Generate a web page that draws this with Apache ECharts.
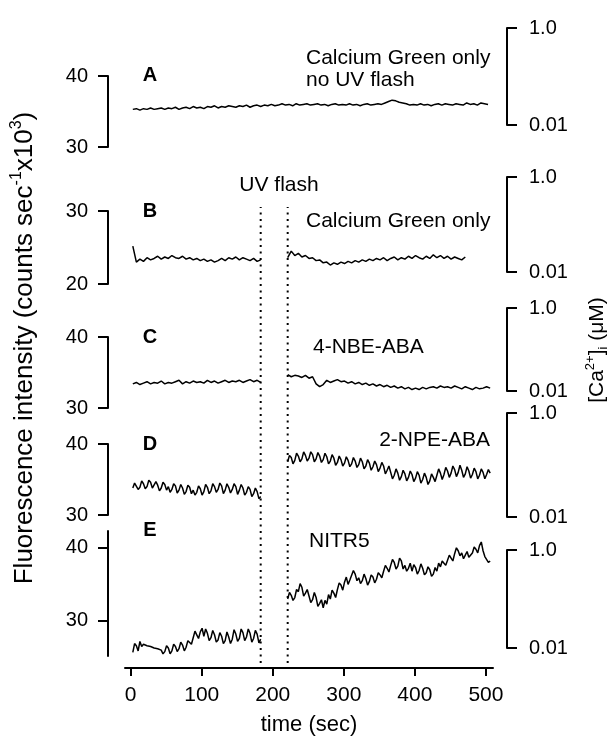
<!DOCTYPE html>
<html>
<head>
<meta charset="utf-8">
<script src="https://cdn.jsdelivr.net/npm/echarts@6/dist/echarts.min.js"></script>
<style>html,body{margin:0;padding:0;background:#fff;}#c{width:611px;height:738px;}</style>
</head>
<body>
<div id="c"></div>
<script>
// ---------- data ----------
const xTicks = [0, 100, 200, 300, 400, 500];
const flashTimes = [183, 221];
const caTicks = [0.01, 1];

const tA = [3,8,13,18,23,28,33,38,43,48,53,58,63,68,73,78,83,88,93,98,103,108,113,118,123,128,133,138,143,148,153,158,163,168,173,178,183,188,193,198,203,208,213,218,223,228,233,238,243,248,253,258,263,268,273,278,283,288,293,298,303,308,313,318,323,328,333,338,343,348,353,358,363,368,373,378,383,388,393,398,403,408,413,418,423,428,433,438,443,448,453,458,463,468,473,478,483,488,493,498,503];
const tPre = [3,8,13,18,23,28,33,38,43,48,53,58,63,68,73,78,83,88,93,98,103,108,113,118,123,128,133,138,143,148,153,158,163,168,173,178,183];
const tPostB = [221,226,231,236,241,246,251,256,261,266,271,276,281,286,291,296,301,306,311,316,321,326,331,336,341,346,351,356,361,366,371,376,381,386,391,396,401,406,411,416,421,426,431,436,441,446,451,456,461,466,471];
const tPost = [221,226,231,236,241,246,251,256,261,266,271,276,281,286,291,296,301,306,311,316,321,326,331,336,341,346,351,356,361,366,371,376,381,386,391,396,401,406,411,416,421,426,431,436,441,446,451,456,461,466,471,476,481,486,491,496,501,506];
const tPre2 = [3,5.5,8,10.5,13,15.5,18,20.5,23,25.5,28,30.5,33,35.5,38,40.5,43,45.5,48,50.5,53,55.5,58,60.5,63,65.5,68,70.5,73,75.5,78,80.5,83,85.5,88,90.5,93,95.5,98,100.5,103,105.5,108,110.5,113,115.5,118,120.5,123,125.5,128,130.5,133,135.5,138,140.5,143,145.5,148,150.5,153,155.5,158,160.5,163,165.5,168,170.5,173,175.5,178,180.5,183];
const tPost2 = [221,223.5,226,228.5,231,233.5,236,238.5,241,243.5,246,248.5,251,253.5,256,258.5,261,263.5,266,268.5,271,273.5,276,278.5,281,283.5,286,288.5,291,293.5,296,298.5,301,303.5,306,308.5,311,313.5,316,318.5,321,323.5,326,328.5,331,333.5,336,338.5,341,343.5,346,348.5,351,353.5,356,358.5,361,363.5,366,368.5,371,373.5,376,378.5,381,383.5,386,388.5,391,393.5,396,398.5,401,403.5,406,408.5,411,413.5,416,418.5,421,423.5,426,428.5,431,433.5,436,438.5,441,443.5,446,448.5,451,453.5,456,458.5,461,463.5,466,468.5,471,473.5,476,478.5,481,483.5,486,488.5,491,493.5,496,498.5,501,503.5,506];

const vA = [35.3,35.4,35.2,35.4,35.3,35.5,35.3,35.4,35.5,35.3,
  35.5,35.4,35.6,35.3,35.5,35.6,35.4,35.7,35.5,35.6,
  35.4,35.7,35.6,35.8,35.5,35.7,35.6,35.8,35.7,35.6,
  35.8,35.7,35.9,35.6,35.8,35.9,35.7,35.9,35.8,36.0,
  35.8,35.9,36.1,35.9,36.0,35.8,36.1,35.9,36.0,36.1,
  35.9,36.0,36.1,35.9,36.0,35.8,36.0,36.1,35.9,36.0,
  35.9,36.1,35.9,36.0,35.8,36.0,36.1,35.9,36.0,36.1,
  36.0,36.2,36.4,36.6,36.5,36.3,36.2,36.1,35.9,36.0,
  35.9,36.1,35.9,36.0,35.8,36.0,36.1,35.9,36.1,36.0,
  35.9,36.1,36.0,35.9,36.2,36.0,36.1,35.9,36.2,36.1,
  36.0];

const vBpre = [25.2,23.0,23.4,23.1,23.6,23.3,23.5,23.8,23.4,23.7,
  23.5,23.9,23.6,23.5,23.8,23.4,23.6,23.3,23.5,23.2,
  23.4,23.1,23.3,23.0,23.2,23.5,23.2,23.6,23.4,23.7,
  23.3,23.6,23.4,23.2,23.5,23.1,23.3];
const vBpost = [23.6,24.5,23.9,24.2,23.7,23.9,23.5,23.6,23.2,23.3,
  22.9,23.0,22.6,22.9,22.7,23.0,22.8,23.1,22.9,23.2,
  23.0,23.3,23.1,23.4,23.2,23.5,23.3,23.6,23.2,23.5,
  23.7,23.3,23.6,23.4,23.8,23.5,23.9,23.6,23.4,23.8,
  23.5,24.0,23.6,23.9,23.5,23.8,23.4,23.7,23.5,23.3,
  23.7];

const vCpre = [33.4,33.6,33.3,33.5,33.7,33.4,33.6,33.5,33.8,33.4,
  33.6,33.5,33.7,33.9,33.4,33.7,33.5,33.8,33.6,33.7,
  33.5,33.9,33.6,33.8,33.5,33.7,33.9,33.6,33.8,33.7,
  33.9,33.6,33.8,34.0,33.7,33.9,33.6];
const vCpost = [34.7,34.4,34.6,34.5,34.3,34.6,34.2,34.4,33.4,33.0,
  33.3,33.9,33.6,33.8,34.0,33.7,33.8,33.5,33.7,33.4,
  33.6,33.3,33.5,33.2,33.4,33.1,33.3,33.0,33.2,32.9,
  33.1,32.8,33.0,32.7,32.9,32.6,32.8,32.6,32.9,32.7,
  32.9,33.0,32.8,33.1,32.9,33.0,32.8,33.1,32.9,32.7,
  33.0,32.8,32.6,32.9,32.7,32.8,33.0,32.8];

const vDpre = [33.8,34.5,34.3,33.6,33.9,34.8,34.4,33.7,34.0,34.9,
  34.6,33.8,33.9,34.7,34.2,33.4,33.8,34.6,34.3,33.5,
  34.0,33.2,33.6,34.4,34.1,33.1,33.5,34.3,33.8,32.9,
  33.3,34.2,33.9,33.0,33.5,32.8,33.2,34.1,33.7,32.8,
  33.3,34.3,33.9,33.0,33.4,34.4,34.0,33.2,33.6,34.5,
  34.1,33.0,33.5,34.4,33.9,33.1,33.6,34.4,34.0,32.9,
  33.5,34.3,33.8,32.8,33.2,34.0,33.6,32.6,33.0,33.8,
  33.3,32.3,32.6];
const vDpost = [37.5,38.4,38.1,37.2,37.7,38.7,38.3,37.5,37.9,38.9,
  38.4,37.6,38.0,38.9,38.5,37.5,37.9,38.8,38.3,37.4,
  37.8,38.7,38.2,37.2,37.6,38.5,38.0,37.0,37.4,38.3,
  37.8,36.9,37.3,38.2,37.7,36.8,37.2,38.1,37.6,36.7,
  37.1,38.0,37.5,36.5,36.9,37.8,37.3,36.3,36.8,37.6,
  37.1,36.1,36.6,37.4,36.9,35.8,36.3,36.9,36.0,35.1,
  35.6,36.5,35.9,34.9,35.4,36.3,35.8,34.8,35.3,36.2,
  35.7,34.7,35.2,36.1,35.6,34.5,35.0,35.9,35.3,34.3,
  34.8,35.8,35.3,34.7,35.6,36.5,35.9,35.0,35.7,36.7,
  36.2,35.3,35.9,36.9,36.4,35.4,36.0,37.0,36.3,35.3,
  35.8,36.8,36.2,35.2,35.7,36.6,36.1,35.1,35.6,36.5,
  36.0,35.1,35.7,36.4,35.9];

const vEpre = [25.7,26.9,26.6,25.9,27.2,26.5,26.8,26.7,26.6,26.55,
  26.5,26.4,26.3,26.25,26.2,26.1,26.0,25.5,25.8,26.6,
  26.3,25.5,25.9,26.8,26.5,25.8,26.2,27.1,26.7,25.9,
  26.4,27.3,27.2,26.8,27.7,28.6,28.1,27.6,28.5,29.0,
  27.9,28.9,28.3,27.3,27.7,28.7,28.1,27.1,27.4,28.4,
  27.9,26.9,27.3,28.5,27.8,26.9,27.5,28.8,28.2,27.2,
  27.6,28.9,28.4,27.3,27.8,28.9,28.3,27.1,27.6,28.7,
  28.2,27.0,27.5];
const vEpost = [33.0,33.9,33.5,32.8,33.2,34.3,34.0,35.1,34.6,33.4,
  33.8,34.3,33.4,32.5,32.9,33.9,33.2,32.0,32.4,32.9,
  31.8,32.8,32.3,33.6,33.0,34.2,33.8,33.2,34.3,35.2,
  34.9,34.2,35.3,36.0,35.0,35.6,35.8,36.9,36.4,35.5,
  35.9,35.1,35.5,36.4,35.8,34.9,35.4,36.3,36.0,35.2,
  35.7,36.6,36.3,35.9,36.8,37.6,37.2,36.7,37.6,38.4,
  38.0,37.1,37.5,38.6,38.2,37.1,37.6,36.8,37.2,37.9,
  36.8,37.7,37.3,36.4,36.9,37.8,37.2,36.3,36.6,37.4,
  37.0,36.1,36.4,37.3,36.8,37.9,37.4,38.2,37.9,37.6,
  38.3,39.0,38.6,38.2,39.2,40.0,39.6,38.9,39.3,38.5,
  39.0,39.5,38.7,38.5,39.3,40.1,39.8,39.3,40.3,40.8,
  39.6,38.8,38.9,38.0,38.2];

// ---------- layout ----------
const FONT = 'Liberation Sans';
const X_MIN = -8, X_MAX = 510;
const GL = 125, GW = 368;
const panels = [
  {top: 76,  h: 71,  min: 30,   max: 40,   ticks: [30, 40]},
  {top: 211, h: 73,  min: 20,   max: 30,   ticks: [20, 30]},
  {top: 337, h: 71,  min: 30,   max: 40,   ticks: [30, 40]},
  {top: 444, h: 71,  min: 30,   max: 40,   ticks: [30, 40]},
  {top: 531, h: 125, min: 25.2, max: 42.3, ticks: [30, 40]}
];
const rightAxes = [
  {top: 28,  h: 97},
  {top: 177, h: 95},
  {top: 308, h: 83},
  {top: 413, h: 104},
  {top: 550, h: 98}
];
const traces = [
  [[tA, vA]],
  [[tPre, vBpre], [tPostB, vBpost]],
  [[tPre, vCpre], [tPost, vCpost]],
  [[tPre2, vDpre], [tPost2, vDpost]],
  [[tPre2, vEpre], [tPost2, vEpost]]
];

function pairs(t, v) { return t.map((x, i) => [x, v[i]]); }

const grid = [], xAxis = [], yAxis = [], series = [];
const axLine = {show: true, onZero: false, lineStyle: {color: '#000', width: 2}};
const tickSt = {color: '#000', width: 2};

panels.forEach((p, i) => {
  grid.push({left: GL, width: GW, top: p.top, height: p.h});
  const last = i === panels.length - 1;
  xAxis.push({
    gridIndex: i, type: 'value', min: X_MIN, max: X_MAX,
    show: last, position: 'bottom', offset: 12,
    axisLine: axLine, splitLine: {show: false},
    axisTick: {show: true, length: 8, lineStyle: tickSt, customValues: xTicks},
    axisLabel: {show: true, customValues: xTicks, fontFamily: FONT, fontSize: 21, color: '#000', margin: 17},
    name: last ? 'time (sec)' : '', nameLocation: 'middle', nameGap: 46,
    nameTextStyle: {fontFamily: FONT, fontSize: 22, color: '#000'}
  });
  yAxis.push({
    gridIndex: i, type: 'value', min: p.min, max: p.max, position: 'left', offset: 17,
    axisLine: axLine, splitLine: {show: false},
    axisTick: {show: true, length: 10, lineStyle: tickSt, customValues: p.ticks},
    axisLabel: {customValues: p.ticks, fontFamily: FONT, fontSize: 20, color: '#000', margin: 20}
  });
  traces[i].forEach(seg => {
    series.push({
      type: 'line', xAxisIndex: i, yAxisIndex: i, data: pairs(seg[0], seg[1]),
      symbol: 'none', showSymbol: false, silent: true,
      lineStyle: {color: '#000', width: 1.5}
    });
  });
});

rightAxes.forEach((r, k) => {
  const gi = panels.length + k;
  grid.push({left: GL, width: 382, top: r.top, height: r.h});
  xAxis.push({gridIndex: gi, type: 'value', min: X_MIN, max: X_MAX, show: false});
  yAxis.push({
    gridIndex: gi, type: 'log', logBase: 10, min: 0.01, max: 1, position: 'right',
    axisLine: axLine, splitLine: {show: false},
    axisTick: {show: true, length: 10, lineStyle: tickSt, customValues: caTicks},
    axisLabel: {customValues: caTicks, fontFamily: FONT, fontSize: 20, color: '#000', margin: 22,
      formatter: v => (v >= 0.5 ? '1.0' : '0.01')}
  });
});

// overlay grid for UV flash dotted lines
const og = grid.length;
grid.push({left: GL, width: GW, top: 207, height: 456});
xAxis.push({gridIndex: og, type: 'value', min: X_MIN, max: X_MAX, show: false});
yAxis.push({gridIndex: og, type: 'value', min: 0, max: 1, show: false});
flashTimes.forEach(ft => {
  series.push({
    type: 'line', xAxisIndex: og, yAxisIndex: og, data: [[ft, 0], [ft, 1]],
    symbol: 'none', silent: true,
    lineStyle: {color: '#000', width: 2, type: [2, 4.5]}
  });
});

function txt(x, y, text, opt) {
  opt = opt || {};
  return {
    type: 'text', x: x, y: y, rotation: opt.rot || 0, silent: true,
    style: Object.assign({
      text: text, x: 0, y: 0,
      font: (opt.bold ? 'bold ' : '') + (opt.size || 21) + 'px "' + FONT + '"',
      fill: '#000',
      align: opt.align || 'left', textAlign: opt.align || 'left',
      verticalAlign: 'middle', textVerticalAlign: 'middle'
    }, opt.extra || {})
  };
}

const graphics = [
  txt(150, 75, 'A', {bold: true, size: 20, align: 'center'}),
  txt(150, 211, 'B', {bold: true, size: 20, align: 'center'}),
  txt(150, 337, 'C', {bold: true, size: 20, align: 'center'}),
  txt(150, 444, 'D', {bold: true, size: 20, align: 'center'}),
  txt(150, 530, 'E', {bold: true, size: 20, align: 'center'}),
  txt(306, 58, 'Calcium Green only'),
  txt(306, 80, 'no UV flash'),
  txt(306, 221, 'Calcium Green only'),
  txt(279, 185, 'UV flash', {align: 'center'}),
  txt(313, 347, '4-NBE-ABA'),
  txt(490, 440, '2-NPE-ABA', {align: 'right'}),
  txt(309, 541, 'NITR5'),
  txt(25, 348, '{n|Fluorescence intensity (counts sec}{sup|-1}{n|x10}{sup|3}{n|)}',
    {rot: Math.PI / 2, align: 'center', size: 26, extra: {rich: {
      n: {fontFamily: FONT, fontSize: 26, lineHeight: 32, fill: '#000', color: '#000'},
      sup: {fontFamily: FONT, fontSize: 16, lineHeight: 16, verticalAlign: 'top', fill: '#000', color: '#000'}
    }}}),
  txt(597, 350, '{n|[Ca}{sup|2+}{n|]}{sub|i}{n| (\u03bcM)}',
    {rot: Math.PI / 2, align: 'center', size: 21, extra: {rich: {
      n: {fontFamily: FONT, fontSize: 21, lineHeight: 26, fill: '#000', color: '#000'},
      sup: {fontFamily: FONT, fontSize: 13, lineHeight: 13, verticalAlign: 'top', fill: '#000', color: '#000'},
      sub: {fontFamily: FONT, fontSize: 13, lineHeight: 13, verticalAlign: 'bottom', fill: '#000', color: '#000'}
    }}})
];

const chart = echarts.init(document.getElementById('c'), null, {renderer: 'canvas'});
chart.setOption({
  animation: false,
  backgroundColor: '#fff',
  textStyle: {fontFamily: FONT},
  grid: grid, xAxis: xAxis, yAxis: yAxis, series: series,
  graphic: {elements: graphics}
});
</script>
</body>
</html>
